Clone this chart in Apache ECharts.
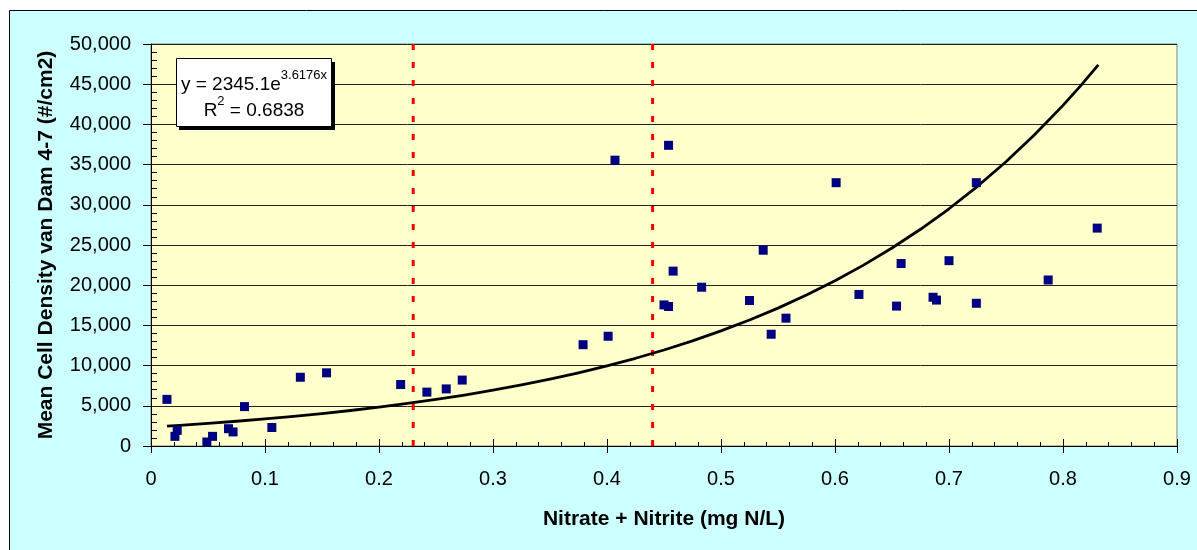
<!DOCTYPE html>
<html>
<head>
<meta charset="utf-8">
<script src="https://cdn.jsdelivr.net/npm/echarts@6/dist/echarts.min.js"></script>
<style>
html,body{margin:0;padding:0;background:#ffffff;}
#chart{width:1197px;height:550px;}
</style>
</head>
<body>
<div id="chart"></div>
<script>
// Observed data: nitrate + nitrite (mg N/L) vs mean cell density (#/cm2)
const nitrate = [0.014,0.021,0.023,0.049,0.054,0.068,0.072,0.082,0.106,0.131,0.154,0.219,0.242,0.259,0.273,0.379,0.401,0.407,0.454,0.458,0.483,0.450,0.454,0.525,0.537,0.544,0.557,0.601,0.621,0.654,0.658,0.686,0.689,0.700,0.724,0.724,0.787,0.830];
const density = [5800,1200,1950,500,1200,2150,1750,4900,2300,8550,9100,7650,6700,7100,8200,12600,13650,35550,37400,21750,19750,17550,17350,18100,24350,13900,15900,32750,18850,17400,22700,18500,18150,23050,32750,17750,20650,27100];

// Trend line points
const trendX = [0.014,0.025,0.05,0.075,0.1,0.125,0.15,0.175,0.2,0.225,0.25,0.275,0.3,0.325,0.35,0.375,0.4,0.425,0.45,0.475,0.5,0.525,0.55,0.575,0.6,0.625,0.65,0.675,0.7,0.725,0.75,0.775,0.8,0.815,0.831];
const trendY = [2467,2567,2810,3076,3367,3686,4035,4417,4835,5293,5794,6342,6942,7599,8319,9106,9968,10911,11944,13075,14312,15667,17150,18773,20550,22496,24625,26956,29507,32301,35358,38705,42368,44732,47396];

// Vertical reference lines (x positions)
const dividerX = [0.23, 0.44];

const yTicks = [0,5000,10000,15000,20000,25000,30000,35000,40000,45000,50000];
const xTicks = [0,0.1,0.2,0.3,0.4,0.5,0.6,0.7,0.8,0.9];

const eqLine1 = 'y = 2345.1e';
const eqExp = '3.6176x';
const eqR2 = '0.6838';

const xTitle = 'Nitrate + Nitrite (mg N/L)';
const yTitle = 'Mean Cell Density van Dam 4-7 (#/cm2)';

const FONT = '"Liberation Sans", Arial, sans-serif';

const chart = echarts.init(document.getElementById('chart'), null, {renderer:'canvas'});

const series = [];
dividerX.forEach(function(xv){
  series.push({
    type:'line', xAxisIndex:0, yAxisIndex:0,
    data:[[xv, yTicks[0]],[xv, yTicks[yTicks.length-1]]],
    symbol:'none', silent:true,
    lineStyle:{color:'#FF0000', width:3, type:[6,12]},
    z:3
  });
});
series.push({
  type:'line', xAxisIndex:0, yAxisIndex:0,
  data: trendX.map(function(x,i){return [x, trendY[i]];}),
  smooth:false, symbol:'none',
  lineStyle:{color:'#000000', width:2.8, join:'round'},
  z:4
});
series.push({
  type:'scatter', xAxisIndex:0, yAxisIndex:0,
  data: nitrate.map(function(x,i){return [x, density[i]];}),
  symbol:'rect', symbolSize:9,
  itemStyle:{color:'#000080', opacity:1},
  z:5
});

const option = {
  animation:false,
  textStyle:{fontFamily:FONT},
  grid:{left:151, right:20, top:44, bottom:104, show:true, backgroundColor:'#FFFFCC', borderColor:'#808080', borderWidth:1, containLabel:false},
  xAxis:[
    {
      type:'value', min:xTicks[0], max:xTicks[xTicks.length-1], interval:0.1,
      axisLine:{show:true, onZero:false, lineStyle:{color:'#000', width:1}},
      axisTick:{show:true, length:7, lineStyle:{color:'#000'}},
      axisLabel:{margin:23, fontSize:20, color:'#000', fontFamily:FONT,
        formatter:function(v){return v===0?'0':(Math.round(v*10)/10).toString();}},
      splitLine:{show:false},
      name:xTitle, nameLocation:'middle', nameGap:63,
      nameTextStyle:{fontWeight:'bold', fontSize:21, color:'#000', fontFamily:FONT}
    },
    {
      type:'value', min:xTicks[0], max:xTicks[xTicks.length-1], interval:0.1, position:'bottom',
      axisLine:{show:false},
      axisTick:{show:true, inside:true, length:7, lineStyle:{color:'#000'}},
      minorTick:{show:true, splitNumber:5, length:4, lineStyle:{color:'#000'}},
      axisLabel:{show:false}, splitLine:{show:false}
    }
  ],
  yAxis:[
    {
      type:'value', min:yTicks[0], max:yTicks[yTicks.length-1], interval:5000,
      axisLine:{show:true, onZero:false, lineStyle:{color:'#000', width:1}},
      axisTick:{show:true, length:8, lineStyle:{color:'#000'}},
      axisLabel:{margin:20, fontSize:20, color:'#000', fontFamily:FONT,
        formatter:function(v){return v.toLocaleString('en-US');}},
      splitLine:{show:true, lineStyle:{color:'#222', width:1}},
      name:yTitle, nameLocation:'middle', nameGap:94,
      nameTextStyle:{fontWeight:'bold', fontSize:21, color:'#000', fontFamily:FONT}
    },
    {
      type:'value', min:yTicks[0], max:yTicks[yTicks.length-1], interval:5000, position:'left',
      axisLine:{show:false},
      axisTick:{show:true, inside:true, length:0},
      minorTick:{show:true, splitNumber:5, length:6, lineStyle:{color:'#000'}},
      axisLabel:{show:false}, splitLine:{show:false}
    }
  ],
  graphic:[
    {type:'rect', x:9.5, y:10.5, z:-100, silent:true,
      shape:{x:0,y:0,width:1300,height:700},
      style:{fill:'#CCFFFF', stroke:'#000', lineWidth:1}},
    {type:'rect', x:179, y:62, z:50, silent:true,
      shape:{x:0,y:0,width:156,height:68},
      style:{fill:'#000'}},
    {type:'rect', x:176.5, y:58.5, z:51, silent:true,
      shape:{x:0,y:0,width:155,height:68},
      style:{fill:'#fff', stroke:'#000', lineWidth:1}},
    {type:'text', x:254, y:94, z:52, silent:true,
      style:{
        text:'{a|'+eqLine1+'}{s|'+eqExp+'}\n{a|R}{s|2}{a| = '+eqR2+'}',
        align:'center', verticalAlign:'middle',
        fill:'#000',
        rich:{
          a:{fontSize:19, fontFamily:FONT, lineHeight:26, fill:'#000', verticalAlign:'bottom'},
          s:{fontSize:13, fontFamily:FONT, lineHeight:26, fill:'#000', verticalAlign:'top', padding:[1,0,0,0]}
        }
      }}
  ],
  series:series
};
chart.setOption(option);
</script>
</body>
</html>
